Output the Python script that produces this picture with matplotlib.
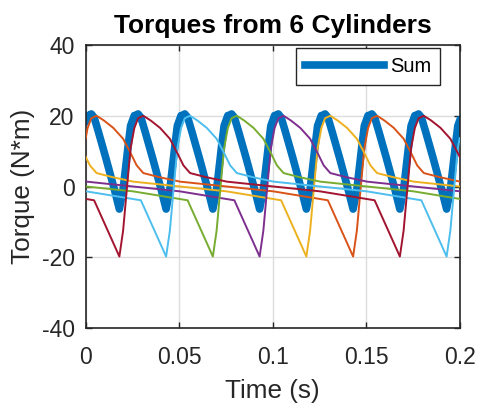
import numpy as np
import matplotlib
matplotlib.use("Agg")
import matplotlib.pyplot as plt

# ---- data ----
period = 0.15                       # s, one engine cycle per cylinder
# one cylinder torque cycle, phase measured from the torque minimum
cycle_phase = [0.0, 0.002, 0.004, 0.006, 0.008, 0.010, 0.0128, 0.0164, 0.0217,
               0.027, 0.0307, 0.0342, 0.0378, 0.045, 0.057, 0.082, 0.1065,
               0.1365, 0.143, 0.15]
cycle_torque = [-19.8, -12.5, -0.5, 10.8, 16.5, 19.3, 20.0, 18.8, 16.6,
                13.5, 9.8, 6.0, 3.8, 2.8, 1.4, 0.0, -1.3,
                -3.9, -11.5, -19.8]
# time of torque minimum of each cylinder
cyl_min_time = [0.143, 0.118, 0.093, 0.068, 0.043, 0.018]
cyl_colors = ["#D95319", "#EDB120", "#7E2F8E", "#77AC30", "#4DBEEE", "#A2142F"]
sum_color = "#0072BD"

xticks = [0, 0.05, 0.1, 0.15, 0.2]
xtick_labels = ["0", "0.05", "0.1", "0.15", "0.2"]
yticks = [-40, -20, 0, 20, 40]

t = np.linspace(0, 0.2, 801)
cyl = [np.interp((t - tm) % period, cycle_phase, cycle_torque) for tm in cyl_min_time]
total = np.sum(cyl, axis=0)

plt.rcParams['font.family'] = ['Liberation Sans', 'DejaVu Sans']
plt.rcParams['axes.unicode_minus'] = False
fig = plt.figure(figsize=(4.79, 4.08), dpi=100)
ax = fig.add_axes([85.7 / 479, 80 / 408, 374 / 479, 283 / 408])

ax.plot(t, total, color=sum_color, lw=5.5, label="Sum", zorder=2)
for c, col in zip(cyl, cyl_colors):
    ax.plot(t, c, color=col, lw=1.4, zorder=3)

ax.set_xlim(0, 0.2)
ax.set_ylim(-40, 40)
ax.set_xticks(xticks)
ax.set_xticklabels(xtick_labels)
ax.set_yticks(yticks)
ax.grid(True, color="#dcdcdc", lw=1.0, zorder=0)
ax.set_axisbelow(True)
ax.tick_params(direction="in", top=True, right=True, length=4, width=1,
               labelsize=16.5, colors="#262626")
ax.tick_params(axis="x", pad=13)
ax.tick_params(axis="y", pad=8)
for s in ax.spines.values():
    s.set_color("#262626")
    s.set_linewidth(1.2)

ax.set_xlabel("Time (s)", fontsize=18.8, color="#262626", labelpad=7)
ax.set_ylabel("Torque (N*m)", fontsize=18.8, color="#262626", labelpad=5)
ax.set_title("Torques from 6 Cylinders", fontsize=19, fontweight="bold", pad=9)

leg = ax.legend(loc="upper right", bbox_to_anchor=(440 / 479, 1 - 48 / 408),
                bbox_transform=fig.transFigure, borderaxespad=0, fontsize=14.5,
                handlelength=3.9, handletextpad=0.3, fancybox=False,
                framealpha=1, borderpad=0.45)
leg.get_frame().set_edgecolor("#262626")
leg.get_frame().set_linewidth(1.0)

fig.savefig("out.png", dpi=100)
